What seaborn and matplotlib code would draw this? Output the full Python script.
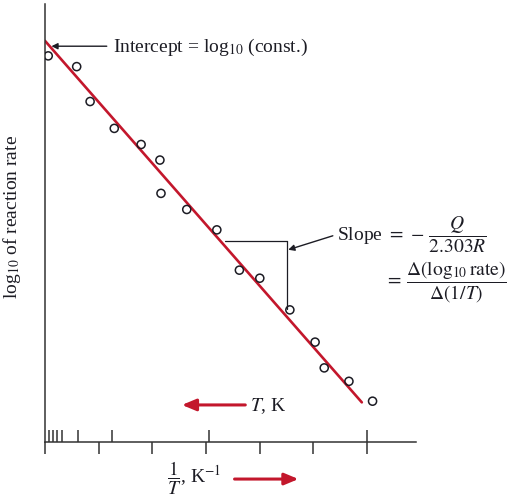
import matplotlib
matplotlib.use("Agg")
import matplotlib.pyplot as plt
import seaborn as sns
import pandas as pd

# measured data (x = 1/T in arbitrary units, y = log10 rate)
inv_T = [0.06, 0.59, 0.84, 1.29, 1.79, 2.14, 2.16, 2.64, 3.20, 3.62, 4.00, 4.56, 5.03, 5.20, 5.66, 6.10]
log_rate = [7.19, 6.99, 6.34, 5.84, 5.54, 5.25, 4.63, 4.33, 3.95, 3.20, 3.05, 2.46, 1.86, 1.38, 1.13, 0.76]

# fitted line
fit_intercept = 7.47
fit_slope = -1.141
fit_x_end = 5.90

# axis ticks: 1/T scale below, T scale above
lower_ticks = [0, 1, 2, 3, 4, 5, 6]
upper_ticks = [0.08, 0.155, 0.23, 0.31, 0.62, 1.24, 3.05, 6.0]

red = "#c3172c"
ink = "#1c1c24"
axis_color = "#333333"
fs = 14
red_arrow = "-|>,head_length=0.6,head_width=0.25"

sns.set_theme(style="ticks")
plt.rcParams["font.family"] = ["Liberation Serif", "DejaVu Serif"]
plt.rcParams["mathtext.fontset"] = "stix"

fig = plt.figure(figsize=(5.14, 5.02), dpi=100)
ax = fig.add_axes([45 / 514, 59 / 502, 371 / 514, 438 / 502])

points = pd.DataFrame({"inv_T": inv_T, "log_rate": log_rate})
fit = pd.DataFrame({"inv_T": [0, fit_x_end],
                    "log_rate": [fit_intercept, fit_intercept + fit_slope * fit_x_end]})

sns.lineplot(data=fit, x="inv_T", y="log_rate", color=red, lw=1.9, ax=ax, zorder=2)
sns.scatterplot(data=points, x="inv_T", y="log_rate", marker="o", s=34,
                facecolor="none", edgecolor=ink, linewidth=1.1, ax=ax, zorder=3)

ax.set_xlim(0, 6.909)
ax.set_ylim(0, 8.156)
sns.despine(ax=ax)
for s in ["left", "bottom"]:
    ax.spines[s].set_linewidth(1.1)
    ax.spines[s].set_color(axis_color)

ax.set_yticks([])
ax.set_xticks(lower_ticks)
ax.set_xticks(upper_ticks, minor=True)
ax.xaxis.remove_overlapping_locs = False
ax.tick_params(axis="x", which="major", direction="out", length=8.4, width=1.1,
               color=axis_color, labelbottom=False, bottom=True)
ax.tick_params(axis="x", which="minor", direction="in", length=8.4, width=1.1,
               color=axis_color, bottom=True)

ax.set_xlabel("")
ax.set_ylabel(r"log$_{10}$ of reaction rate", fontsize=fs, color=ink)
ax.yaxis.set_label_coords(-0.06, 0.516)

# intercept annotation
ax.annotate("", xy=(0.12, 7.37), xytext=(1.15, 7.37),
            arrowprops=dict(arrowstyle="-|>", color=ink, lw=1.0, mutation_scale=9,
                            shrinkA=0, shrinkB=0))
ax.text(1.26, 7.37, r"Intercept = log$_{10}$ (const.)", fontsize=fs,
        ha="left", va="center", color=ink)

# slope triangle
ax.plot([3.35, 4.51], [3.75, 3.75], color=ink, lw=0.9)
ax.plot([4.51, 4.51], [3.75, 2.48], color=ink, lw=0.9)
ax.annotate("", xy=(4.53, 3.58), xytext=(5.36, 3.84),
            arrowprops=dict(arrowstyle="-|>", color=ink, lw=1.0, mutation_scale=9,
                            shrinkA=0, shrinkB=0))
ax.text(5.43, 3.87, r"Slope $=\,-\,\dfrac{Q}{2.303R}$", fontsize=fs,
        ha="left", va="center", color=ink)
ax.text(6.33, 2.98, r"$=\, \dfrac{\Delta(\mathrm{log}_{10}\,\mathrm{rate})}{\Delta(1/T)}$",
        fontsize=fs, ha="left", va="center", color=ink)

# temperature direction
ax.annotate("", xy=(2.55, 0.69), xytext=(3.73, 0.69),
            arrowprops=dict(arrowstyle=red_arrow, color=red, lw=2.2, mutation_scale=14,
                            shrinkA=0, shrinkB=0))
ax.text(3.82, 0.69, r"$T$, K", fontsize=fs, ha="left", va="center", color=ink)

# 1/T direction, below axis
ax.annotate("", xy=(4.72, -0.69), xytext=(3.53, -0.69),
            arrowprops=dict(arrowstyle=red_arrow, color=red, lw=2.2, mutation_scale=14,
                            shrinkA=0, shrinkB=0),
            annotation_clip=False)
ax.text(2.28, -0.66, r"$\dfrac{1}{T}$, K$^{-1}$", fontsize=fs, ha="left", va="center",
        color=ink, clip_on=False)

fig.savefig("out.png", dpi=100)
